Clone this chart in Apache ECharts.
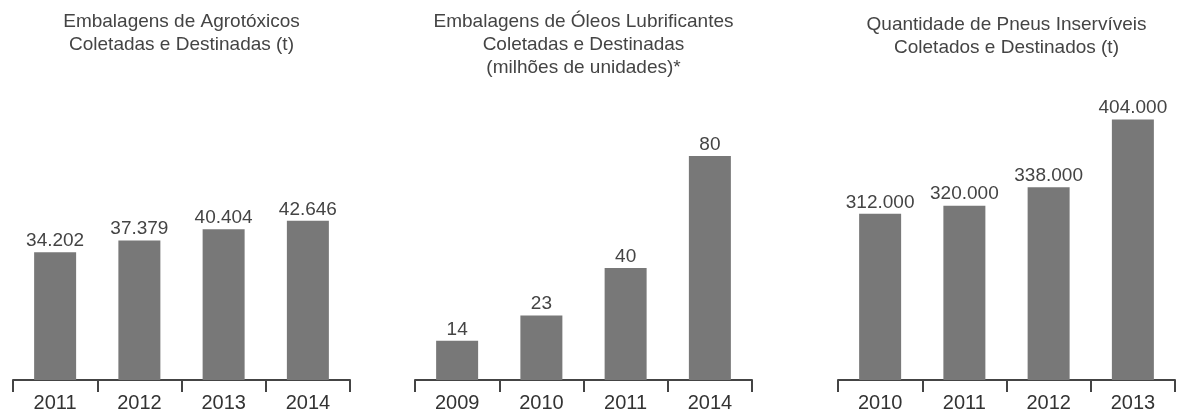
<!DOCTYPE html>
<html>
<head>
<meta charset="utf-8">
<script src="https://cdn.jsdelivr.net/npm/echarts@6/dist/echarts.min.js"></script>
<style>
html,body{margin:0;padding:0;background:#fff;}
#c{width:1177px;height:418px;}
</style>
</head>
<body>
<div id="c"></div>
<script>
// Panel 1: Embalagens de Agrotóxicos (t)
const agroYears = ['2011', '2012', '2013', '2014'];
const agroValues = [34202, 37379, 40404, 42646];
const agroTitle = 'Embalagens de Agrotóxicos\nColetadas e Destinadas (t)';

// Panel 2: Embalagens de Óleos Lubrificantes (milhões de unidades)
const oleoYears = ['2009', '2010', '2011', '2014'];
const oleoValues = [14, 23, 40, 80];
const oleoTitle = 'Embalagens de Óleos Lubrificantes\nColetadas e Destinadas\n(milhões de unidades)*';

// Panel 3: Pneus Inservíveis (t)
const pneuYears = ['2010', '2011', '2012', '2013'];
const pneuValues = [312000, 320000, 338000, 404000];
const pneuTitle = 'Quantidade de Pneus Inservíveis\nColetados e Destinados (t)';

function fmt(v) {
  return String(v).replace(/\B(?=(\d{3})+(?!\d))/g, '.');
}

const FONT = '"Liberation Sans", Arial, sans-serif';
const panels = [
  {years: agroYears, values: agroValues, title: agroTitle, left: 13, right: 827, min: 0, max: 75000, titleTop: 10},
  {years: oleoYears, values: oleoValues, title: oleoTitle, left: 415, right: 425, min: 0, max: 100, titleTop: 10},
  {years: pneuYears, values: pneuValues, title: pneuTitle, left: 838, right: 2, min: 150000, max: 423000, titleTop: 13}
];

const option = {
  backgroundColor: '#ffffff',
  animation: false,
  title: panels.map(p => ({
    text: p.title,
    left: p.left + (1177 - p.left - p.right) / 2,
    top: p.titleTop,
    textAlign: 'center',
    padding: 0,
    textStyle: {fontFamily: FONT, fontSize: 19, fontWeight: 'normal', color: '#444', lineHeight: 23}
  })),
  grid: panels.map(p => ({left: p.left, right: p.right, top: 100, bottom: 38, containLabel: false})),
  xAxis: panels.map((p, i) => ({
    type: 'category',
    gridIndex: i,
    data: p.years,
    axisLine: {lineStyle: {color: '#444', width: 2}},
    axisTick: {show: true, length: 12, lineStyle: {color: '#444', width: 2}},
    axisLabel: {fontFamily: FONT, fontSize: 20, color: '#333', margin: 13}
  })),
  yAxis: panels.map((p, i) => ({
    type: 'value',
    gridIndex: i,
    min: p.min,
    max: p.max,
    show: false,
    splitLine: {show: false}
  })),
  series: panels.map((p, i) => ({
    type: 'bar',
    xAxisIndex: i,
    yAxisIndex: i,
    data: p.values,
    barWidth: 42,
    itemStyle: {color: '#787878'},
    label: {
      show: true,
      position: 'top',
      distance: 2,
      fontFamily: FONT,
      fontSize: 19,
      color: '#444',
      formatter: d => fmt(d.value)
    }
  }))
};

const chart = echarts.init(document.getElementById('c'), null, {renderer: 'canvas'});
chart.setOption(option);
</script>
</body>
</html>
